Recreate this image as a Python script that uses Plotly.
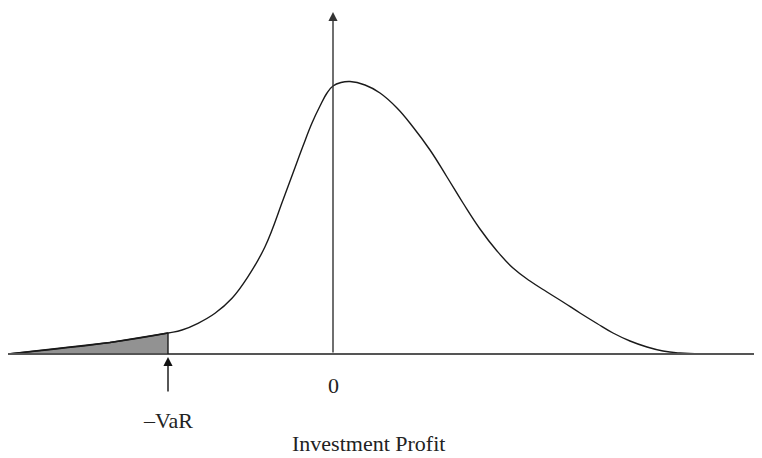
import plotly.graph_objects as go

# Profit (arbitrary units) and probability density
profit = [-6.5, -5.46, -4.46, -3.3, -3.02, -2.7, -2.36, -2.02, -1.7, -1.36, -1.0,
          -0.8, -0.6, -0.42, -0.26, -0.12, 0.0, 0.16, 0.34, 0.64, 0.94, 1.28, 1.6, 1.94,
          2.28, 2.6, 2.94, 3.28, 3.6, 3.94, 4.28, 4.6, 4.94, 5.28, 5.6, 5.94, 6.28, 6.6,
          6.94, 7.34, 7.74]
density = [0.0, 0.0055, 0.0115, 0.021, 0.024, 0.0307, 0.0407, 0.0557, 0.0773, 0.1073,
           0.154, 0.181, 0.208, 0.231, 0.248, 0.261, 0.268, 0.2715, 0.2725, 0.269, 0.261,
           0.246, 0.227, 0.204, 0.177, 0.151, 0.125, 0.103, 0.086, 0.073, 0.062, 0.052,
           0.041, 0.0305, 0.021, 0.013, 0.007, 0.003, 0.001, 0.0, 0.0]
var_level = -3.3
x_axis_end = 8.7
y_axis_top = 0.342

labels = {"zero": "0", "var": "\u2013VaR", "xtitle": "Investment Profit"}

tail_x = [p for p in profit if p <= var_level]
tail_y = [d for p, d in zip(profit, density) if p <= var_level]
var_density = density[profit.index(var_level)]

FONT = "Liberation Serif"

fig = go.Figure()
fig.add_trace(go.Scatter(x=tail_x, y=tail_y, mode="lines", fill="tozeroy",
                         fillcolor="#929292", line=dict(color="#1a1a1a", width=1.6),
                         hoverinfo="skip", showlegend=False))
fig.add_trace(go.Scatter(x=profit, y=density, mode="lines",
                         line=dict(color="#1a1a1a", width=1.4, shape="spline", smoothing=1.2),
                         showlegend=False))

# horizontal axis
fig.add_shape(type="line", x0=profit[0], y0=0, x1=x_axis_end, y1=0,
              line=dict(color="#555555", width=2))
# VaR vertical line
fig.add_shape(type="line", x0=var_level, y0=0, x1=var_level, y1=var_density,
              line=dict(color="#1a1a1a", width=1.4))

# vertical axis arrow
fig.add_annotation(x=0, y=y_axis_top, ax=0, ay=0, xref="x", yref="y", axref="x", ayref="y",
                   showarrow=True, arrowhead=2, arrowsize=1.3, arrowwidth=1.4,
                   arrowcolor="#333333", text="")
# VaR arrow
fig.add_annotation(x=var_level, y=-0.003, ax=var_level, ay=-0.039, xref="x", yref="y",
                   axref="x", ayref="y", showarrow=True, arrowhead=2, arrowsize=1.3,
                   arrowwidth=1.4, arrowcolor="#111111", text="")

fig.add_annotation(x=0, y=-0.031, text=labels["zero"], showarrow=False,
                   font=dict(family=FONT, size=22, color="#222222"))
fig.add_annotation(x=var_level, y=-0.066, text=labels["var"], showarrow=False,
                   font=dict(family=FONT, size=22, color="#222222"))
fig.add_annotation(x=0.7, y=-0.104, yanchor="bottom", text=labels["xtitle"], showarrow=False,
                   font=dict(family=FONT, size=22, color="#222222"))

# page body has an 8px margin: figure is 754x450 placed at (8, 8)
fig.update_xaxes(visible=False, range=[-6.5, 8.58], fixedrange=True)
fig.update_yaxes(visible=False, range=[-0.104, 0.346], fixedrange=True)
fig.update_layout(width=754, height=450, margin=dict(l=0, r=0, t=0, b=0),
                  plot_bgcolor="white", paper_bgcolor="white")

fig.write_html("out.html")
